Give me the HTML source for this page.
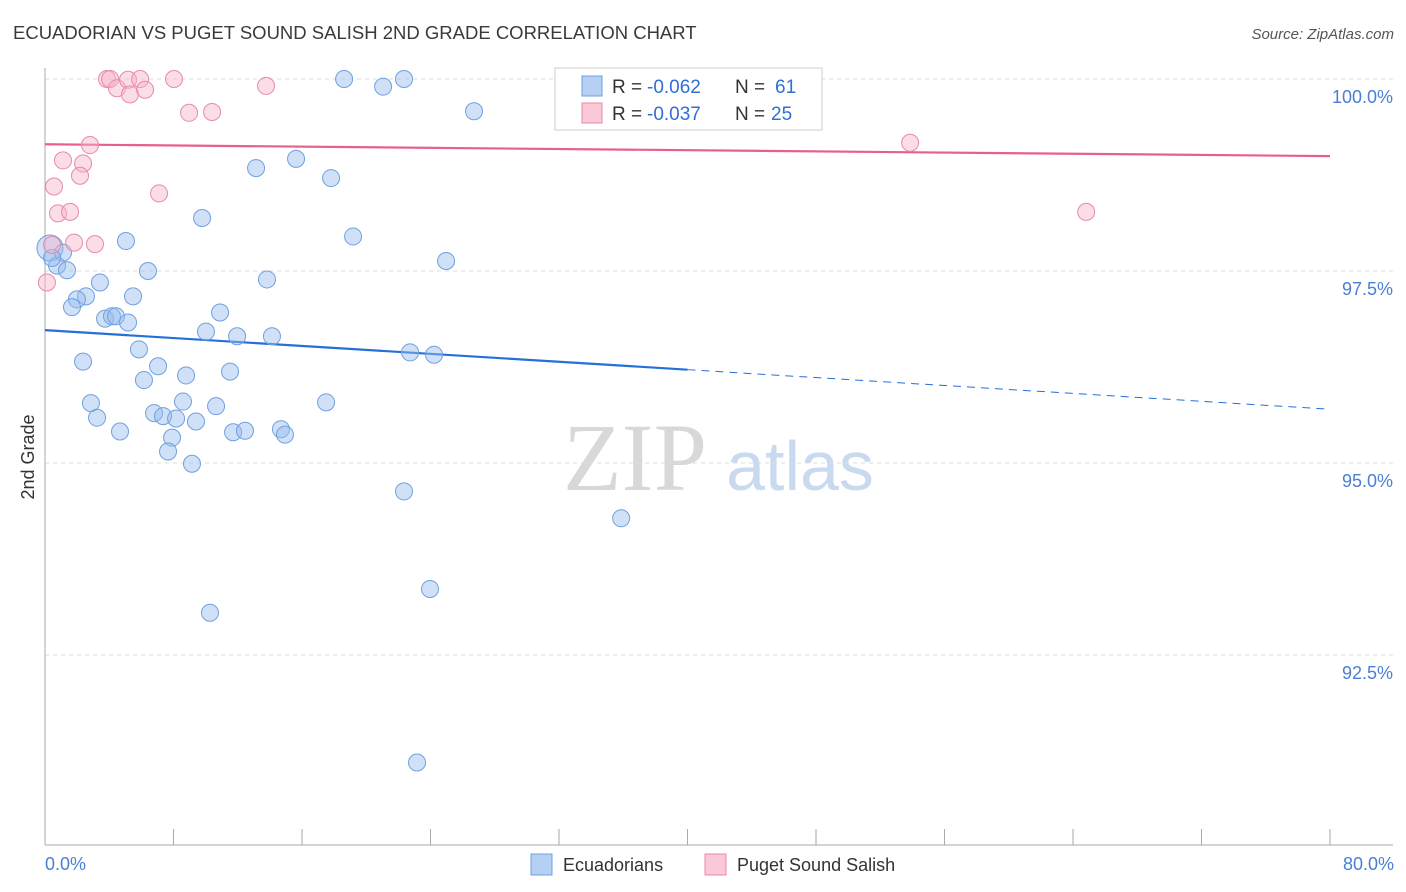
<!DOCTYPE html>
<html><head><meta charset="utf-8"><style>
body{margin:0;background:#fff;font-family:"Liberation Sans",sans-serif;}
svg{display:block}
</style></head><body>
<svg id="chart" width="1406" height="892" xmlns="http://www.w3.org/2000/svg">
<text x="13" y="39" font-size="18.5" fill="#3a3a3a" font-family="Liberation Sans, sans-serif">ECUADORIAN VS PUGET SOUND SALISH 2ND GRADE CORRELATION CHART</text>
<text x="1394" y="39" font-size="15" fill="#555" text-anchor="end" font-style="italic">Source: ZipAtlas.com</text>
<g>
<text x="635" y="490" font-size="96" fill="#d8d8d8" text-anchor="middle" font-family="Liberation Serif, serif">ZIP</text>
<text x="800" y="490" font-size="70" fill="#c9daf0" text-anchor="middle">atlas</text>
</g>
<g id="grid"></g>
<g id="axes"></g>
<g id="trends"></g>
<g id="points"></g>
<text transform="translate(34,457) rotate(-90)" font-size="18" fill="#333" text-anchor="middle">2nd Grade</text>
<text x="45" y="870" font-size="18" fill="#4a7fd4">0.0%</text>
<text x="1394" y="870" font-size="18" fill="#4a7fd4" text-anchor="end">80.0%</text>
<g>
<rect x="555" y="68" width="267" height="62" fill="#fff" stroke="#ccc"/>
<rect x="582" y="76" width="20" height="20" fill="#b6d0f4" stroke="#6fa0e0"/>
<rect x="582" y="103" width="20" height="20" fill="#fbc8d7" stroke="#e88aa8"/>
<text x="612" y="93" font-size="19" fill="#333">R =</text>
<text x="647" y="93" font-size="19" fill="#2f6fd6">-0.062</text>
<text x="735" y="93" font-size="19" fill="#333">N =</text>
<text x="775" y="93" font-size="19" fill="#2f6fd6">61</text>
<text x="612" y="120" font-size="19" fill="#333">R =</text>
<text x="647" y="120" font-size="19" fill="#2f6fd6">-0.037</text>
<text x="735" y="120" font-size="19" fill="#333">N =</text>
<text x="771" y="120" font-size="19" fill="#2f6fd6">25</text>
</g>
<g>
<rect x="531" y="854" width="21" height="21" fill="#b6d0f4" stroke="#6fa0e0"/>
<text x="563" y="871" font-size="18" fill="#333">Ecuadorians</text>
<rect x="705" y="854" width="21" height="21" fill="#fbc8d7" stroke="#e88aa8"/>
<text x="737" y="871" font-size="18" fill="#333">Puget Sound Salish</text>
</g>
</svg>
<script>
const yTicks=[100,97.5,95,92.5];
const yTickLabels=["100.0%","97.5%","95.0%","92.5%"];
const xTicks=[0,8,16,24,32,40,48,56,64,72,80];
const blueX=[0.31,0.75,1.12,1.37,5.04,6.41,3.42,2.55,1.99,1.68,5.48,3.74,4.17,4.42,5.17,9.78,13.14,15.63,17.81,19.18,13.82,10.90,10.02,11.96,14.13,5.85,2.37,7.04,8.78,11.52,6.16,2.86,8.59,10.65,17.50,3.24,6.79,7.35,8.16,9.40,4.67,7.91,11.71,12.45,14.69,14.94,7.66,9.15,22.73,24.22,24.97,26.71,18.62,21.05,22.35,22.35,35.87,23.97,10.27,23.16,0.44];
const blueY=[97.80,97.57,97.74,97.51,97.89,97.50,97.35,97.17,97.13,97.03,97.17,96.88,96.91,96.91,96.83,98.19,98.84,98.96,98.71,97.95,97.39,96.96,96.71,96.65,96.65,96.48,96.32,96.26,96.14,96.19,96.08,95.78,95.80,95.74,95.79,95.59,95.65,95.61,95.58,95.54,95.41,95.33,95.40,95.42,95.44,95.37,95.15,94.99,96.44,96.41,97.63,99.58,100.0,99.90,100.0,94.63,94.28,93.36,93.05,91.10,97.67];
const pinkX=[0.12,0.56,0.81,1.56,1.12,2.37,2.18,2.80,1.81,3.11,7.10,3.86,4.05,4.48,5.17,5.29,5.92,6.23,8.03,8.97,10.40,13.76,53.86,64.82,0.44];
const pinkY=[97.35,98.60,98.25,98.27,98.94,98.90,98.74,99.14,97.87,97.85,98.51,100,100,99.88,99.99,99.80,100,99.86,100,99.56,99.57,99.91,99.17,98.27,97.84];
const blueTrend=[96.73,95.70];
const pinkTrend=[99.15,98.996];
const blueSolidEnd=40;
const NS="http://www.w3.org/2000/svg";
const sx=v=>45+v*(1285/80);
const sy=v=>79+(100-v)*(192/2.5);
function mk(tag,attrs,parent){const e=document.createElementNS(NS,tag);for(const k in attrs)e.setAttribute(k,attrs[k]);document.getElementById(parent).appendChild(e);return e;}
yTicks.forEach((t,i)=>{
 const l=mk('line',{x1:45,x2:1393,y1:sy(t),y2:sy(t),stroke:'#ddd','stroke-dasharray':'4,4'},'grid');
 
 
 const tx=mk('text',{x:1393,y:sy(t)+24,'font-size':18,fill:'#4a7fd4','text-anchor':'end'},'grid');
 tx.textContent=yTickLabels[i];
 
 
});
const ya=mk('line',{x1:45,x2:45,y1:68,y2:845,stroke:'#aaa'},'axes');


const xa=mk('line',{x1:45,x2:1393,y1:845,y2:845,stroke:'#aaa'},'axes');


xTicks.forEach(t=>{
 const l=mk('line',{x1:sx(t),x2:sx(t),y1:829,y2:845,stroke:'#aaa'},'axes');
 
 
});
function yAt(tr,x){return tr[0]+(tr[1]-tr[0])*x/80;}
let t1=mk('line',{x1:sx(0),y1:sy(blueTrend[0]),x2:sx(blueSolidEnd),y2:sy(yAt(blueTrend,blueSolidEnd)),stroke:'#2470d8','stroke-width':2.2},'trends');


let t2=mk('line',{x1:sx(blueSolidEnd),y1:sy(yAt(blueTrend,blueSolidEnd)),x2:sx(80),y2:sy(blueTrend[1]),stroke:'#2470d8','stroke-width':1,'stroke-dasharray':'8,6'},'trends');


let t3=mk('line',{x1:sx(0),y1:sy(pinkTrend[0]),x2:sx(80),y2:sy(pinkTrend[1]),stroke:'#e8608a','stroke-width':2.2},'trends');


blueX.forEach((x,i)=>{
 const c=mk('circle',{cx:sx(x),cy:sy(blueY[i]),r:i===0?13:8.5,fill:'rgba(150,188,238,0.45)',stroke:'#6fa0e0','stroke-width':1},'points');
 
 
});
pinkX.forEach((x,i)=>{
 const c=mk('circle',{cx:sx(x),cy:sy(pinkY[i]),r:8.5,fill:'rgba(247,180,202,0.45)',stroke:'#e88aa8','stroke-width':1},'points');
 
 
});
</script>
</body></html>
